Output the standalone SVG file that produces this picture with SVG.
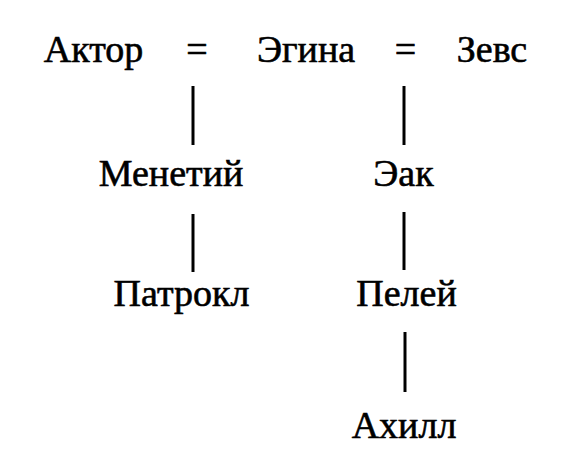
<svg xmlns="http://www.w3.org/2000/svg" width="585" height="470" viewBox="0 0 585 470">
<style>
text{font-family:"Liberation Serif","Times New Roman",serif;font-size:38px;fill:#000;stroke:#000;stroke-width:0.6;text-anchor:middle}
.c line{stroke:#000;stroke-width:3}
</style>
<rect width="585" height="470" fill="#fff"/>
<g id="aktor"><text x="93.5" y="62">Актор</text></g>
<g id="eq1"><text x="197" y="62">=</text></g>
<g id="egina"><text x="306" y="62">Эгина</text></g>
<g id="eq2"><text x="405.5" y="62">=</text></g>
<g id="zevs"><text x="492" y="62">Зевс</text></g>
<g id="menetiy"><text x="171" y="186">Менетий</text></g>
<g id="eak"><text x="403.5" y="186">Эак</text></g>
<g id="patrokl"><text x="181.5" y="306">Патрокл</text></g>
<g id="peley"><text x="406.5" y="306">Пелей</text></g>
<g id="ahill"><text x="404" y="438">Ахилл</text></g>
<g class="c" id="connectors">
<line x1="193" y1="86" x2="193" y2="145"/>
<line x1="404" y1="86" x2="404" y2="145"/>
<line x1="193" y1="214" x2="193" y2="272"/>
<line x1="404" y1="212" x2="404" y2="270"/>
<line x1="405" y1="332" x2="405" y2="392"/>
</g>
</svg>
